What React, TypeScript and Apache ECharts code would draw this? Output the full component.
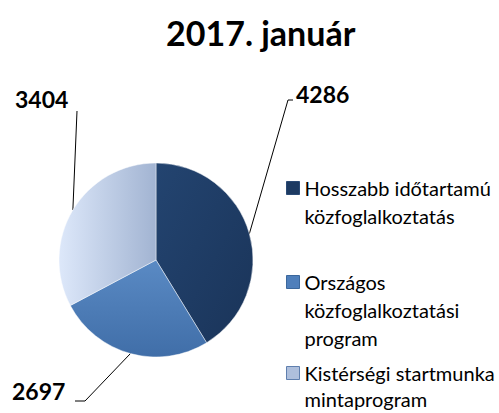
import React, { useEffect, useRef } from "react";
import * as echarts from "echarts";

const titleText = "2017. január";
const categories = [
  "Hosszabb időtartamú\nközfoglalkoztatás",
  "Országos\nközfoglalkoztatási\nprogram",
  "Kistérségi startmunka\nmintaprogram",
];
const values = [4286, 2697, 3404];

const FONT = "Lato, 'Open Sans', sans-serif";

export default function App() {
  const ref = useRef<HTMLDivElement>(null);
  useEffect(() => {
    if (!ref.current) return;
    document.body.style.margin = "0";
    const chart = echarts.init(ref.current, null, { renderer: "svg" });
    const fills = [
      new echarts.graphic.LinearGradient(0, 0, 1, 1, [
        { offset: 0, color: "#234470" },
        { offset: 1, color: "#1a3459" },
      ]),
      new echarts.graphic.LinearGradient(0, 0, 0, 1, [
        { offset: 0, color: "#5a8ac4" },
        { offset: 1, color: "#406ea8" },
      ]),
      new echarts.graphic.LinearGradient(0, 0, 1, 0, [
        { offset: 0, color: "#dde8fa" },
        { offset: 1, color: "#a2b4d2" },
      ]),
    ];
    const legendFlat = ["#1d3a62", "#4f7fbb", "#aebfdc"];
    const legendBorder = ["#2b4a75", "#3b679c", "#5f7fae"];
    const iconCenters = [188, 282, 373];
    const lineHeights = [28, 28, 26];
    const labelPos = [
      { x: 296, y: 94, p2: [288, 100], p3: [293, 100] },
      { x: 12, y: 391, p2: [85, 401], p3: [75, 401] },
      { x: 15, y: 99, p2: [77, 111], p3: [77, 111] },
    ];
    chart.setOption({
      animation: false,
      title: {
        text: titleText,
        left: 166,
        top: 15,
        padding: 0,
        textStyle: { fontFamily: FONT, fontSize: 34, fontWeight: "bold", color: "#000" },
      },
      legend: categories.map((c, i) => {
        const n = c.split("\n").length;
        const lineH = lineHeights[i];
        const total = (2 * n - 1) * lineH;
        return {
          data: [
            {
              name: c,
              icon: "rect",
              itemStyle: { color: legendFlat[i], borderColor: legendBorder[i], borderWidth: 1 },
            },
          ],
          formatter: (name: string) => "\n".repeat(n - 1) + name,
          orient: "vertical",
          left: 281,
          top: iconCenters[i] - total / 2 - 5,
          padding: 5,
          itemWidth: 13,
          itemHeight: 13,
          selectedMode: false,
          textStyle: {
            fontFamily: FONT,
            fontSize: 20,
            lineHeight: lineH,
            color: "#000",
          },
        };
      }),
      series: [
        {
          type: "pie",
          center: [156, 260],
          radius: 97,
          startAngle: 90,
          clockwise: true,
          data: categories.map((c, i) => ({
            name: c,
            value: values[i],
            itemStyle: { color: fills[i] },
          })),
          itemStyle: { borderColor: "rgba(255,255,255,0.45)", borderWidth: 1 },
          label: {
            show: true,
            formatter: "{c}",
            fontFamily: FONT,
            fontSize: 23,
            fontWeight: "bold",
            color: "#000",
            overflow: "none",
          },
          labelLine: { show: true, lineStyle: { color: "#000", width: 1 } },
          labelLayout: (params: any) => {
            const lp = labelPos[params.dataIndex];
            const start = params.labelLinePoints ? params.labelLinePoints[0] : [0, 0];
            return {
              x: lp.x,
              y: lp.y,
              align: "left",
              verticalAlign: "middle",
              width: 80,
              labelLinePoints: [start, lp.p2, lp.p3],
            };
          },
          emphasis: { disabled: true },
        },
      ],
    });
    return () => chart.dispose();
  }, []);
  return <div ref={ref} style={{ width: 499, height: 413 }} />;
}
